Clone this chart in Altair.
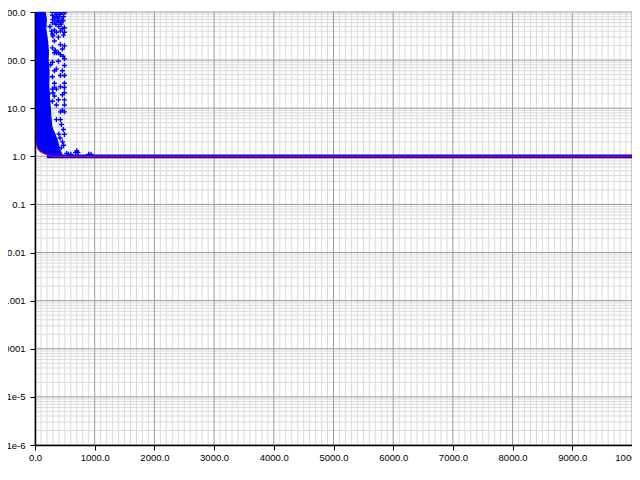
import altair as alt
import pandas as pd

# ---- data ----
red_x = [15, 15, 24, 38, 72, 105, 145, 217, 300, 10000]
red_y = [6.6, 2.0, 1.85, 1.46, 1.28, 1.21, 1.15, 1.07, 1.0, 1.0]

blue_line_x = [200, 10000]
blue_line_y = [1.0, 1.0]

# dense blue cloud envelope (left / right edge for each y level)
blob_y = [1.03, 1.12, 1.25, 1.45, 1.8, 2.2, 3.0, 3.6, 4.2, 6.0, 6.6, 9.0, 15, 30, 60, 98, 150, 250, 450, 700, 1000]
blob_left = [220, 150, 90, 40, 24, 15, 15, 15, 15, 15, 0, 0, 0, 0, 0, 0, 0, 0, 0, 0, 0]
blob_right = [470, 460, 440, 420, 400, 380, 340, 310, 290, 280, 275, 270, 255, 240, 245, 230, 235, 220, 190, 200, 180]

# sparse blue crosses around the cloud
scatter_x = [276, 326, 376, 426, 476, 509,
             290, 359, 409, 459, 500,
             330, 409, 476,
             300, 376, 470,
             350, 440,
             493, 276, 426, 493,
             300, 476,
             493, 426, 340,
             326, 359, 392,
             493, 470,
             493, 426, 493,
             326, 326, 493, 493, 493, 300,
             493, 493, 359, 493, 426, 459,
             359, 426, 443, 476, 493,
             530, 560, 600, 680, 700, 720, 900, 940,
             250, 260, 230,
             420, 380, 450, 330, 400,
             292, 292, 292, 292, 292, 292, 292, 292,
             326, 326, 326, 326, 326,
             359, 359, 359, 359,
             392, 392, 392, 392,
             426, 426, 426,
             459, 459, 459, 459,
             350, 400, 450, 480,
             420, 460, 480, 440, 400]
scatter_y = [1130, 1130, 1130, 1130, 1130, 1100,
             981, 981, 990, 981, 960,
             813, 813, 800,
             700, 673, 660,
             557, 560,
             470, 400, 401, 380,
             317, 330,
             198, 210, 160,
             142, 142, 142,
             107, 120,
             77, 48, 48,
             33, 27, 33, 27, 21, 21,
             14.9, 11.7, 11.7, 8.4, 8.4, 9.0,
             5.8, 5.8, 4.6, 3.6, 2.86,
             1.15, 1.1, 1.1, 1.2, 1.3, 1.2, 1.1, 1.1,
             500, 80, 20,
             900, 760, 720, 600, 500,
             850, 600, 350, 180, 90, 45, 25, 14,
             750, 420, 250, 60, 18,
             900, 380, 65, 25,
             650, 300, 95, 15,
             600, 130, 28,
             450, 170, 60, 19,
             1050, 1050, 1050, 1050,
             2.4, 2.0, 1.7, 1.5, 2.9]

x_major = [0, 1000, 2000, 3000, 4000, 5000, 6000, 7000, 8000, 9000, 10000]
y_major = [1e-6, 1e-5, 1e-4, 1e-3, 1e-2, 1e-1, 1, 10, 100, 1000]
y_labels = ["1e-6", "1e-5", "0.0001", "0.001", "0.01", "0.1", "1.0", "10.0", "100.0", "1000.0"]

x_minor = [v for v in range(0, 10001, 100) if v not in x_major]
y_minor = [k * d for d in y_major[:-1] for k in range(2, 10)]

# ---- scales / axes ----
FONT = "Liberation Sans"
xs = alt.Scale(domain=[0, 10000], nice=False, zero=False)
ys = alt.Scale(type="log", domain=[1e-6, 1000], nice=False)

label_expr = "[" + ",".join("'%s'" % s for s in y_labels) + "][round(log(datum.value)/LN10)+6]"

x_axis = alt.Axis(values=x_major, format=".1f", title=None, grid=False,
                  domainColor="black", domainWidth=1.5, tickColor="black", tickSize=5,
                  labelFont=FONT, labelFontSize=9.5, labelColor="black", labelPadding=2,
                  labelFlush=False, labelOverlap=False, zindex=1)
y_axis = alt.Axis(values=y_major, labelExpr=label_expr, title=None, grid=False,
                  domainColor="black", domainWidth=1.5, tickColor="black", tickSize=5,
                  labelFont=FONT, labelFontSize=9.5, labelColor="black", labelPadding=5,
                  labelFlush=False, labelOverlap=False, zindex=1)

# ---- layers ----
minor_x = alt.Chart(pd.DataFrame({"x": x_minor})).mark_rule(color="#dadada", strokeWidth=1).encode(
    x=alt.X("x:Q", scale=xs, axis=x_axis))
minor_y = alt.Chart(pd.DataFrame({"y": y_minor})).mark_rule(color="#dadada", strokeWidth=1).encode(
    y=alt.Y("y:Q", scale=ys, axis=y_axis))
major_x = alt.Chart(pd.DataFrame({"x": x_major})).mark_rule(color="#9a9a9a", strokeWidth=1).encode(
    x=alt.X("x:Q", scale=xs, axis=x_axis))
major_y = alt.Chart(pd.DataFrame({"y": y_major})).mark_rule(color="#9a9a9a", strokeWidth=1).encode(
    y=alt.Y("y:Q", scale=ys, axis=y_axis))

blob = alt.Chart(pd.DataFrame({"y": blob_y, "l": blob_left, "r": blob_right})).mark_area(
    orient="horizontal", color="#0000ff", opacity=1, clip=True).encode(
    y=alt.Y("y:Q", scale=ys, axis=y_axis),
    x=alt.X("l:Q", scale=xs, axis=x_axis),
    x2="r:Q")

pts = alt.Chart(pd.DataFrame({"x": scatter_x, "y": scatter_y})).mark_point(
    shape="M-1,0L1,0M0,-1L0,1", filled=False, size=25, strokeWidth=1.4,
    color="#0000ff", opacity=1, clip=True).encode(
    x=alt.X("x:Q", scale=xs, axis=x_axis),
    y=alt.Y("y:Q", scale=ys, axis=y_axis))

blue_line = alt.Chart(pd.DataFrame({"x": blue_line_x, "y": blue_line_y})).mark_line(
    color="#0000ff", strokeWidth=3.6, clip=True).encode(
    x=alt.X("x:Q", scale=xs, axis=x_axis),
    y=alt.Y("y:Q", scale=ys, axis=y_axis))

red_line = alt.Chart(pd.DataFrame({"x": red_x, "y": red_y, "i": list(range(len(red_x)))})).mark_line(
    color="#ff0000", strokeWidth=1, clip=True).encode(
    x=alt.X("x:Q", scale=xs, axis=x_axis),
    y=alt.Y("y:Q", scale=ys, axis=y_axis),
    order="i:Q")

chart = alt.layer(minor_x, minor_y, major_x, major_y, blob, pts, blue_line, red_line).properties(
    width=597, height=433, autosize="none",
    padding={"left": 27, "top": 4, "right": 0, "bottom": 24},
    background="white",
).configure_view(stroke=None)

chart.save("out.html", embed_options={"renderer": "svg", "actions": False})
